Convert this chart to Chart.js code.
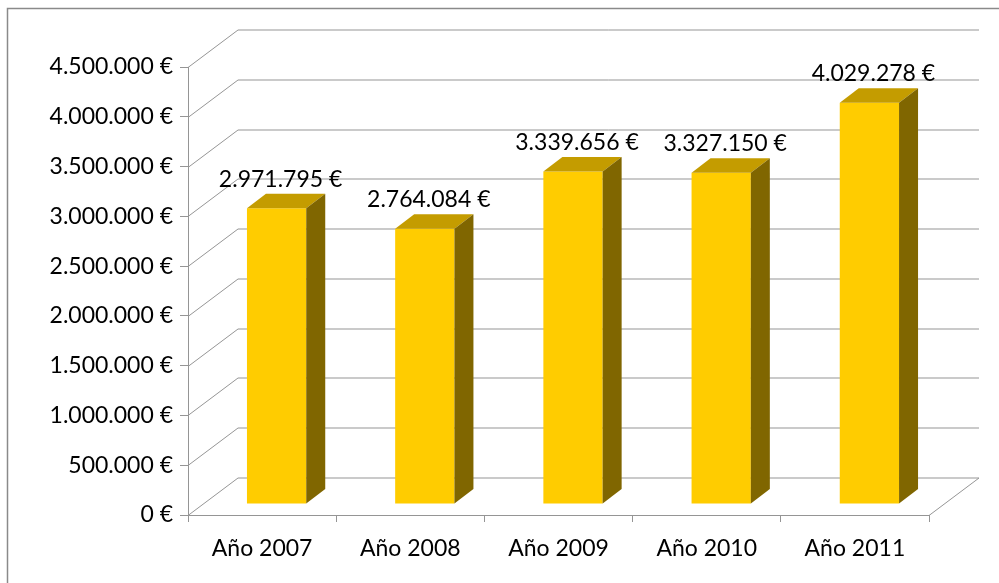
<!DOCTYPE html>
<html>
<head>
<meta charset="utf-8">
<script src="https://cdn.jsdelivr.net/npm/chart.js@4"></script>
<style>
html,body{margin:0;padding:0;background:#fff}
#wrap{width:999px;height:583px;position:relative}
</style>
</head>
<body>
<div id="wrap"><canvas id="canvas"></canvas></div>
<script>
// datos del grafico
var anios=["Año 2007","Año 2008","Año 2009","Año 2010","Año 2011"]
var importes=[2971795,2764084,3339656,3327150,4029278]
var etiquetas=["2.971.795 €","2.764.084 €","3.339.656 €","3.327.150 €","4.029.278 €"]

var colorFrente="#FFCC00"
var colorTecho="#C49C00"
var colorLado="#806600"
var colorRejilla="#959595"

// profundidad del efecto 3d
var fondoX=50, fondoY=-37.5   // pared del fondo
var caraX=14.5, caraY=-11     // cara frontal de la barra
var ladoX=19, ladoY=-14.5     // grosor de la barra

function euros(v){
    return v.toLocaleString("de-DE")+" €"
}

var plugin3d={
    id:"efecto3d",
    beforeDraw:function(chart){
        var ctx=chart.ctx
        ctx.save()
        ctx.strokeStyle="#8a8a8a"
        ctx.lineWidth=1.5
        ctx.beginPath()
        ctx.moveTo(7.5,600)
        ctx.lineTo(7.5,8.5)
        ctx.lineTo(1010,8.5)
        ctx.stroke()
        ctx.restore()
    },
    beforeDatasetsDraw:function(chart){
        var ctx=chart.ctx
        var area=chart.chartArea
        var y=chart.scales.y
        ctx.save()
        ctx.strokeStyle=colorRejilla
        ctx.lineWidth=1
        y.ticks.forEach(function(t){
            var py=Math.round(y.getPixelForValue(t.value))+0.5
            ctx.beginPath()
            ctx.moveTo(area.left,py)
            ctx.lineTo(area.left+fondoX,py+fondoY)
            ctx.lineTo(area.right+fondoX,py+fondoY)
            ctx.stroke()
        })
        // borde derecho del suelo
        var p0=Math.round(y.getPixelForValue(0))+0.5
        ctx.beginPath()
        ctx.moveTo(area.right,p0)
        ctx.lineTo(area.right+fondoX,p0+fondoY)
        ctx.stroke()
        ctx.restore()
        // la cara frontal se dibuja desplazada hacia el fondo
        ctx.save()
        ctx.translate(caraX,caraY)
    },
    afterDatasetsDraw:function(chart){
        var ctx=chart.ctx
        ctx.restore()
        var meta=chart.getDatasetMeta(0)
        ctx.save()
        ctx.translate(caraX,caraY)
        meta.data.forEach(function(bar,i){
            var l=bar.x-bar.width/2, r=bar.x+bar.width/2
            var top=bar.y, base=bar.base
            // techo
            ctx.fillStyle=colorTecho
            ctx.beginPath()
            ctx.moveTo(l,top)
            ctx.lineTo(r,top)
            ctx.lineTo(r+ladoX,top+ladoY)
            ctx.lineTo(l+ladoX,top+ladoY)
            ctx.closePath()
            ctx.fill()
            // lado
            ctx.fillStyle=colorLado
            ctx.beginPath()
            ctx.moveTo(r,top)
            ctx.lineTo(r+ladoX,top+ladoY)
            ctx.lineTo(r+ladoX,base+ladoY)
            ctx.lineTo(r,base)
            ctx.closePath()
            ctx.fill()
        })
        // etiquetas de valor
        ctx.fillStyle="#000"
        ctx.font="23px Lato"
        ctx.textAlign="center"
        ctx.textBaseline="middle"
        meta.data.forEach(function(bar,i){
            ctx.fillText(etiquetas[i],bar.x+4,bar.y-29)
        })
        ctx.restore()
    }
}

var config={
    type:"bar",
    data:{
        labels:anios,
        datasets:[{
            data:importes,
            backgroundColor:colorFrente,
            borderWidth:0,
            categoryPercentage:1,
            barPercentage:0.4
        }]
    },
    options:{
        responsive:true,
        maintainAspectRatio:false,
        animation:false,
        layout:{padding:{top:67,right:70,left:0,bottom:0}},
        plugins:{legend:{display:false},tooltip:{enabled:false}},
        scales:{
            x:{
                offset:true,
                grid:{offset:true,drawOnChartArea:false,drawTicks:true,tickLength:7,color:colorRejilla},
                border:{display:true,color:colorRejilla},
                ticks:{color:"#000",font:{family:"Lato",size:23},padding:13},
                afterFit:function(s){s.height=68}
            },
            y:{
                min:0,
                max:4500000,
                ticks:{stepSize:500000,color:"#000",font:{family:"Lato",size:23},padding:7,callback:function(v){return euros(v)}},
                grid:{drawOnChartArea:false,drawTicks:true,tickLength:8,color:colorRejilla},
                border:{display:true,color:colorRejilla},
                afterFit:function(s){s.width=188}
            }
        }
    },
    plugins:[plugin3d]
}

var chart=new Chart(document.getElementById("canvas"),config)
</script>
</body>
</html>
